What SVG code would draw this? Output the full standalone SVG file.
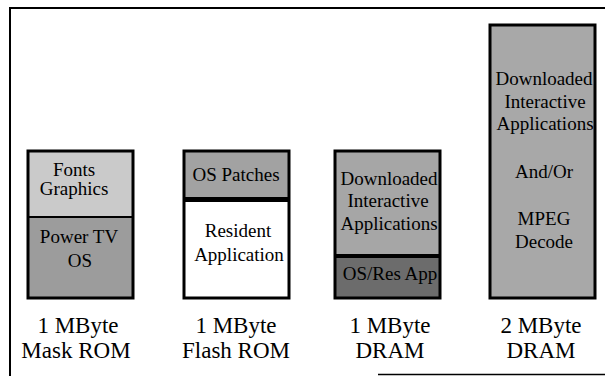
<svg xmlns="http://www.w3.org/2000/svg" width="605" height="376" viewBox="0 0 605 376">
<style>
.t{font-family:"Liberation Serif","Times New Roman",serif;fill:#000;text-anchor:middle}
.in{font-size:19px}
.lb{font-size:23px}
.bx{fill:none;stroke:#000;stroke-width:3}
.dv{stroke:#000}
.frame{stroke:#000;stroke-width:2;fill:none}
</style>
<defs>
<clipPath id="c3"><rect x="336" y="151" width="103" height="147"/></clipPath>
<clipPath id="c4"><rect x="490" y="25" width="105" height="273"/></clipPath>
</defs>
<rect x="0" y="0" width="605" height="376" fill="#fff"/>
<g id="frame">
<path class="frame" d="M10,376 V8 H605"/>
<path d="M378,374.5 H605" stroke="#000" stroke-width="1.5"/>
</g>
<g id="mask-rom">
<rect x="28" y="151" width="105" height="66" fill="#cacaca"/>
<rect x="28" y="217" width="105" height="81" fill="#9c9c9c"/>
<line class="dv" x1="28" y1="217" x2="133" y2="217" stroke-width="2"/>
<rect class="bx" x="28" y="151" width="105" height="147"/>
<text class="t in" x="74" y="176">Fonts</text>
<text class="t in" x="74" y="195">Graphics</text>
<text class="t in" x="79" y="243">Power TV</text>
<text class="t in" x="80" y="267">OS</text>
<text class="t lb" x="78" y="333">1 MByte</text>
<text class="t lb" x="76" y="358">Mask ROM</text>
</g>
<g id="flash-rom">
<rect x="184" y="151" width="105" height="48" fill="#a2a2a2"/>
<rect x="184" y="199" width="105" height="99" fill="#fff"/>
<line class="dv" x1="184" y1="199.5" x2="289" y2="199.5" stroke-width="5"/>
<rect class="bx" x="184" y="151" width="105" height="147"/>
<text class="t in" x="236" y="181">OS Patches</text>
<text class="t in" x="238" y="237">Resident</text>
<text class="t in" x="239" y="261">Application</text>
<text class="t lb" x="236" y="333">1 MByte</text>
<text class="t lb" x="236" y="358">Flash ROM</text>
</g>
<g id="dram-1">
<rect x="335" y="151" width="105" height="105" fill="#a6a6a6"/>
<rect x="335" y="256" width="105" height="42" fill="#6c6c6c"/>
<g clip-path="url(#c3)">
<text class="t in" x="389" y="185">Downloaded</text>
<text class="t in" x="388" y="207">Interactive</text>
<text class="t in" x="389" y="230">Applications</text>
<text class="t in" x="390" y="280">OS/Res App</text>
</g>
<line class="dv" x1="335" y1="256" x2="440" y2="256" stroke-width="4"/>
<rect class="bx" x="335" y="151" width="105" height="147"/>
<text class="t lb" x="390" y="333">1 MByte</text>
<text class="t lb" x="390" y="358">DRAM</text>
</g>
<g id="dram-2">
<rect x="490" y="25" width="105" height="273" fill="#a8a8a8"/>
<g clip-path="url(#c4)">
<text class="t in" x="544" y="85">Downloaded</text>
<text class="t in" x="545" y="108">Interactive</text>
<text class="t in" x="545" y="130">Applications</text>
<text class="t in" x="544" y="178">And/Or</text>
<text class="t in" x="544" y="225">MPEG</text>
<text class="t in" x="544" y="248">Decode</text>
</g>
<rect class="bx" x="490" y="25" width="105" height="273"/>
<text class="t lb" x="541" y="333">2 MByte</text>
<text class="t lb" x="541" y="358">DRAM</text>
</g>
</svg>
